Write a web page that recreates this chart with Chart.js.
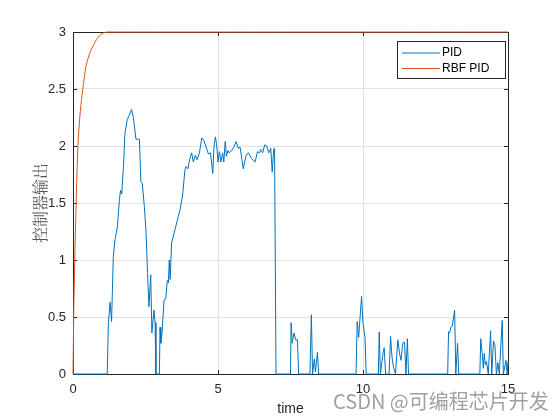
<!DOCTYPE html>
<html>
<head>
<meta charset="utf-8">
<script src="https://cdn.jsdelivr.net/npm/chart.js@4.4.0/dist/chart.umd.min.js"></script>
<style>
  html, body { margin: 0; padding: 0; background: #fff; }
  #chart { display: block; }
</style>
</head>
<body>
<canvas id="chart" width="560" height="420"></canvas>
<script>
// ==============================================================
// data
// ==============================================================
var pidTime = [0, 1.18, 1.22, 1.28, 1.33, 1.39, 1.45, 1.53, 1.6, 1.64, 1.68, 1.74, 1.79, 1.87, 1.94,
  2.02, 2.08, 2.17, 2.29, 2.34, 2.39, 2.46, 2.52, 2.57, 2.62, 2.68, 2.72, 2.79, 2.83, 2.86, 2.98,
  3.0, 3.03, 3.07, 3.14, 3.2, 3.25, 3.29, 3.32, 3.35, 3.4, 3.53, 3.63, 3.69, 3.78, 3.86, 3.9, 3.96,
  4.03, 4.09, 4.15, 4.22, 4.28, 4.36, 4.44, 4.51, 4.59, 4.67, 4.74, 4.82, 4.86, 4.91, 4.95,
  5.0, 5.05, 5.1, 5.16, 5.2, 5.25, 5.29, 5.34, 5.38, 5.47, 5.55, 5.62, 5.7, 5.76, 5.82, 5.87, 5.97,
  6.05, 6.16, 6.28, 6.36, 6.43, 6.47, 6.54, 6.61, 6.68, 6.75, 6.82, 6.87, 6.92, 6.95,
  7.0, 7.5, 7.52, 7.56, 7.62, 7.68, 7.74, 7.78, 8.17, 8.22, 8.26, 8.32, 8.36, 8.43, 8.47,
  9.76, 9.8, 9.85, 9.95, 10.0, 10.07, 10.11, 10.53, 10.56, 10.6, 10.69, 10.73, 10.78,
  10.9, 10.95, 11.0, 11.05, 11.12, 11.2, 11.26, 11.31, 11.37, 11.43, 11.48, 11.53, 11.57,
  12.92, 12.95, 12.99, 13.03, 13.08, 13.16, 13.2, 13.26, 13.3,
  14.03, 14.06, 14.11, 14.15, 14.18, 14.22, 14.26, 14.32, 14.4, 14.44, 14.5, 14.55, 14.6,
  14.65, 14.7, 14.8, 14.84, 14.93, 14.97, 15];
var pidOutput = [0, 0, 0.45, 0.63, 0.46, 1.03, 1.18, 1.29, 1.53, 1.61, 1.58, 1.82, 2.11, 2.23, 2.27,
  2.32, 2.25, 2.06, 2.06, 1.69, 1.67, 1.47, 1.24, 0.89, 0.59, 0.87, 0.36, 0.56, 0.45, 0, 0,
  0.41, 0.27, 0.36, 0.65, 0.66, 0.82, 0.80, 1.0, 0.83, 1.15, 1.28, 1.38, 1.44, 1.57, 1.79, 1.82, 1.80,
  1.89, 1.94, 1.86, 1.92, 1.88, 1.94, 2.07, 2.05, 1.99, 1.93, 1.94, 1.76, 1.99, 2.08, 2.02,
  1.86, 1.95, 1.86, 1.94, 1.86, 2.04, 1.91, 1.96, 1.94, 1.96, 1.99, 2.04, 1.98, 1.99, 1.89, 1.80, 1.92,
  1.94, 1.89, 1.86, 1.95, 1.94, 1.97, 1.94, 2.01, 2.0, 1.94, 1.98, 1.77, 1.97, 1.98,
  0, 0, 0.45, 0.27, 0.36, 0.30, 0.30, 0, 0, 0.52, 0, 0.13, 0.02, 0.19, 0,
  0, 0.46, 0.32, 0.68, 0.44, 0.32, 0, 0, 0.37, 0, 0.18, 0.23, 0,
  0, 0.33, 0.15, 0.06, 0, 0.30, 0.18, 0.12, 0.27, 0.28, 0, 0.31, 0,
  0, 0.37, 0.36, 0.41, 0.42, 0.56, 0, 0.27, 0,
  0, 0.31, 0.18, 0.05, 0.18, 0.08, 0.11, 0, 0.38, 0, 0.29, 0.25, 0,
  0.10, 0, 0.47, 0, 0.12, 0, 0.11];

var rbfTime = [0, 0.03, 0.07, 0.12, 0.17, 0.25, 0.34, 0.45, 0.6, 0.7, 0.85, 1.03, 1.2, 15];
var rbfOutput = [0, 0.6, 1.1, 1.6, 2.0, 2.3, 2.5, 2.7, 2.83, 2.88, 2.95, 2.99, 3, 3];

var seriesNames = ['PID', 'RBF PID'];
var seriesColors = ['#0072BD', '#D95319'];
var xTickValues = [0, 5, 10, 15];
var yTickValues = [0, 0.5, 1, 1.5, 2, 2.5, 3];

function toPoints(xs, ys) {
  var pts = [];
  for (var i = 0; i < xs.length; i++) {
    pts.push({x: xs[i], y: ys[i]});
  }
  return pts;
}

var axisColor = '#262626';
var tickFont = {family: 'Liberation Sans, Arial, sans-serif', size: 13};

// matlab style box, inward ticks, legend and watermark
var matlabPlugin = {
  id: 'matlabPlugin',
  beforeDatasetsDraw: function(chart) {
    var ctx = chart.ctx;
    var a = chart.chartArea;
    var xs = chart.scales.x, ys = chart.scales.y;
    ctx.save();
    ctx.strokeStyle = axisColor;
    ctx.lineWidth = 1;
    ctx.strokeRect(Math.round(a.left) + 0.5, Math.round(a.top) + 0.5,
      Math.round(a.right - a.left), Math.round(a.bottom - a.top));
    ctx.beginPath();
    xTickValues.forEach(function(v) {
      var px = Math.round(xs.getPixelForValue(v)) + 0.5;
      ctx.moveTo(px, a.bottom); ctx.lineTo(px, a.bottom - 4);
      ctx.moveTo(px, a.top); ctx.lineTo(px, a.top + 4);
    });
    yTickValues.forEach(function(v) {
      var py = Math.round(ys.getPixelForValue(v)) + 0.5;
      ctx.moveTo(a.left, py); ctx.lineTo(a.left + 4, py);
      ctx.moveTo(a.right, py); ctx.lineTo(a.right - 4, py);
    });
    ctx.stroke();
    ctx.restore();
  },
  afterDatasetsDraw: function(chart) {
    var ctx = chart.ctx;
    ctx.save();
    // legend
    var bx = 397.5, by = 41.5, bw = 108, bh = 37;
    ctx.fillStyle = '#fff';
    ctx.fillRect(bx, by, bw, bh);
    ctx.strokeStyle = axisColor;
    ctx.lineWidth = 1;
    ctx.strokeRect(bx, by, bw, bh);
    ctx.font = '12px Liberation Sans, Arial, sans-serif';
    ctx.textBaseline = 'middle';
    chart.data.datasets.forEach(function(ds, i) {
      var ly = 53 + i * 15.5;
      ctx.strokeStyle = ds.borderColor;
      ctx.beginPath();
      ctx.moveTo(402, ly); ctx.lineTo(440, ly);
      ctx.stroke();
      ctx.fillStyle = '#000';
      ctx.fillText(ds.label, 442, ly);
    });
    // watermark
    ctx.font = '20px "Noto Sans CJK SC", sans-serif';
    ctx.fillStyle = 'rgba(150,150,150,0.9)';
    ctx.textBaseline = 'middle';
    ctx.fillText('CSDN @可编程芯片开发', 333, 401);
    ctx.restore();
  }
};

var chartCanvas = document.getElementById('chart');
var newChart = new Chart(chartCanvas, {
  type: 'line',
  data: {
    datasets: [{
      label: seriesNames[0],
      data: toPoints(pidTime, pidOutput),
      borderColor: seriesColors[0],
      borderWidth: 1,
      pointRadius: 0,
      tension: 0,
      fill: false,
      clip: false
    }, {
      label: seriesNames[1],
      data: toPoints(rbfTime, rbfOutput),
      borderColor: seriesColors[1],
      borderWidth: 1,
      pointRadius: 0,
      tension: 0.3,
      fill: false,
      clip: false
    }]
  },
  options: {
    responsive: false,
    animation: false,
    layout: {padding: {top: 32, right: 52, left: 0, bottom: 0}},
    plugins: {legend: {display: false}, tooltip: {enabled: false}},
    scales: {
      x: {
        type: 'linear',
        min: 0, max: 15,
        afterBuildTicks: function(s) { s.ticks = xTickValues.map(function(v) { return {value: v}; }); },
        afterFit: function(s) { s.height = 46; },
        ticks: {font: tickFont, color: axisColor, padding: 8, maxRotation: 0,
          callback: function(v) { return String(v); }},
        grid: {color: '#e1e1e1', drawTicks: false},
        border: {display: false},
        title: {display: true, text: 'time', font: {family: 'Liberation Sans, Arial, sans-serif', size: 14},
          color: axisColor, padding: {top: 0, bottom: 2}}
      },
      y: {
        type: 'linear',
        min: 0, max: 3,
        afterBuildTicks: function(s) { s.ticks = yTickValues.map(function(v) { return {value: v}; }); },
        afterFit: function(s) { s.width = 73; },
        ticks: {font: tickFont, color: axisColor, padding: 7,
          callback: function(v) { return String(v); }},
        grid: {color: '#e1e1e1', drawTicks: false},
        border: {display: false},
        title: {display: true, text: '控制器输出', font: {family: '"Noto Serif CJK SC", "Noto Sans CJK SC", serif', size: 16},
          color: '#555', padding: {top: 30, bottom: 0}}
      }
    }
  },
  plugins: [matlabPlugin]
});
</script>
</body>
</html>
